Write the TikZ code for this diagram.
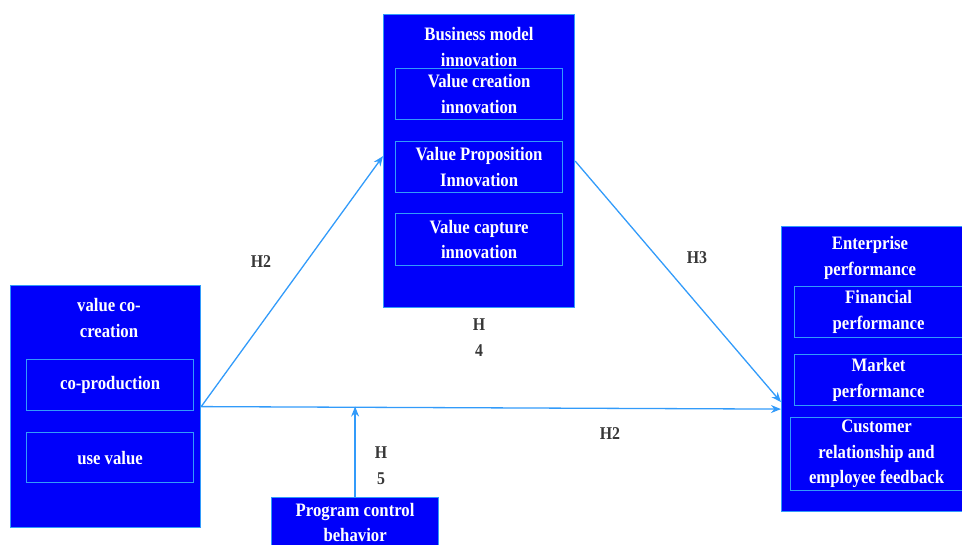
\documentclass[tikz,border=0pt]{standalone}
\usepackage{fontspec}
\setmainfont{Liberation Serif}[FakeStretch=0.88]
\usetikzlibrary{arrows.meta,calc}
\definecolor{bblue}{RGB}{0,0,250}
\definecolor{lblue}{RGB}{50,155,250}
\definecolor{lblack}{RGB}{55,55,55}
\begin{document}
\begin{tikzpicture}[x=1pt,y=-1pt,
  outer/.style={draw=lblue, fill=bblue, line width=1.2pt, inner sep=0pt, anchor=north west},
  inbox/.style={draw=lblue, line width=1.2pt, inner sep=0pt, anchor=north west, align=center, text=white, font=\fontsize{19}{25.5}\selectfont\bfseries},
  ttl/.style={text=white, align=center, font=\fontsize{19}{25.5}\selectfont\bfseries, inner sep=0pt},
  lab/.style={text=lblack, align=center, font=\fontsize{18}{26}\selectfont\bfseries, inner sep=0pt},
  conn/.style={draw=lblue, line width=1.3pt, -{Stealth[length=10pt,width=8pt]}}]
\useasboundingbox (0,0) rectangle (962,545);
\begin{scope}
\clip (0,0) rectangle (962,545);
% left box
\node[outer, minimum width=190, minimum height=242] (vcc) at (10,285) {};
\node[ttl] (vcct) at (109,318) {value co-\\creation};
\node[inbox, minimum width=167, minimum height=51] (cp) at (26,359) {co-production};
\node[inbox, minimum width=167, minimum height=50] (uv) at (26,432) {use value};
% top box
\node[outer, minimum width=191, minimum height=293] (tb) at (383,14) {};
\node[ttl] (tbt) at (479,47) {Business model\\innovation};
\node[inbox, minimum width=167, minimum height=51] (vci) at (395,68) {Value creation\\innovation};
\node[inbox, minimum width=167, minimum height=51] (vpi) at (395,141) {Value Proposition\\Innovation};
\node[inbox, minimum width=167, minimum height=52] (vca) at (395,213) {Value capture\\innovation};
% right box
\node[outer, minimum width=200, minimum height=285] (ep) at (781,226) {};
\node[ttl] (ept) at (870,258) {Enterprise\\performance};
\node[inbox, minimum width=168, minimum height=51] (fp) at (794,286) {Financial\\performance};
\node[inbox, minimum width=168, minimum height=51] (mp) at (794,354) {Market\\performance};
\node[inbox, minimum width=172, minimum height=73] (cr) at (790,417) {Customer\\relationship and\\employee feedback};
% bottom box
\node[outer, minimum width=167, minimum height=50, align=center, text=white, font=\fontsize{19}{25.5}\selectfont\bfseries] (pcb) at (271,497) {Program control\\behavior};
% connectors
\draw[conn] (vcc.east) -- ($(tb.west)+(0,-5)$);
\draw[conn] (tb.east) -- ($(ep.west)+(0,33)$);
\draw[conn] (vcc.east) -- ($(ep.west)+(0,40)$);
\draw[conn] (pcb.north) -- (pcb.north |- vcc.east);
% labels
\node[lab] (h2a) at (261,262) {H2};
\node[lab] (h3) at (697,258) {H3};
\node[lab] (h2b) at (610,434) {H2};
\node[lab] (h4) at (479,338) {H\\4};
\node[lab] (h5) at (381,466) {H\\5};
\end{scope}
\end{tikzpicture}
\end{document}
